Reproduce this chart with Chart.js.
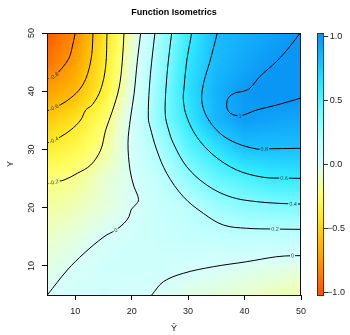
<!DOCTYPE html>
<html>
<head>
<meta charset="utf-8">
<script src="https://cdn.jsdelivr.net/npm/chart.js@4.4.0/dist/chart.umd.min.js"></script>
<style>
  html, body { margin: 0; padding: 0; background: #fff; }
</style>
</head>
<body>
<canvas id="chart" width="350" height="335"></canvas>
<script>
'use strict';

// axis ticks
const xTicks = [10, 20, 30, 40, 50];
const yTicks = [10, 20, 30, 40, 50];
const keyTicks = [-1, -0.5, 0, 0.5, 1];

const gridX = [5, 10, 15, 20, 25, 30, 35, 40, 45, 50];
const gridY = [5, 10, 15, 20, 25, 30, 35, 40, 45, 50];
const field = [
    [0.0, 0.03, 0.04, 0.02, -0.01, -0.04, -0.06, -0.09, -0.12, -0.15],
    [-0.05, -0.005, 0.03, 0.05, 0.05, 0.02, 0.0, -0.015, -0.03, -0.04],
    [-0.105, -0.057, 0.0, 0.04, 0.07, 0.11, 0.12, 0.15, 0.145, 0.143],
    [-0.16, -0.124, -0.067, -0.005, 0.085, 0.155, 0.275, 0.33, 0.36, 0.37],
    [-0.22, -0.19, -0.085, -0.01, 0.145, 0.32, 0.45, 0.52, 0.59, 0.6],
    [-0.37, -0.3, -0.18, 0.02, 0.23, 0.47, 0.63, 0.78, 0.79, 0.79],
    [-0.55, -0.43, -0.24, 0.02, 0.34, 0.6, 0.84, 0.96, 0.93, 0.91],
    [-0.72, -0.62, -0.37, -0.03, 0.33, 0.65, 0.86, 0.98, 1.04, 1.03],
    [-0.9, -0.72, -0.41, -0.07, 0.3, 0.62, 0.82, 0.91, 0.99, 1.04],
    [-0.98, -0.8, -0.44, -0.11, 0.26, 0.57, 0.8, 0.87, 0.93, 1.0]
];

// contour lines, [x, y] points
const lineM08 = [[10.0, 50], [9.43, 47.43], [8.9, 45.7], [7.66, 43.97], [6.24, 42.6], [5, 42.1]];
const lineM06 = [[13.15, 50], [12.92, 46.27], [12.14, 42.83], [10.97, 40.55], [9.2, 38.84], [7.43, 37.69], [6.24, 37.2], [5, 36.6]];
const lineM04 = [[15.63, 50], [15.4, 44.33], [14.51, 40.26], [13.03, 37.68], [11.86, 36.77], [10.97, 35.06], [9.2, 33.34], [7.43, 32.19], [6.24, 31.6], [5, 31.1]];
const lineM02 = [[18.64, 50], [18.34, 45.14], [17.76, 40.56], [16.57, 36.55], [15.4, 33.34], [14.51, 29.9], [12.74, 27.33], [10.37, 25.9], [8.01, 24.75], [6.24, 24.4], [5, 24.07]];
const line00 = [[21.6, 50], [21.0, 45.14], [20.41, 39.4], [19.79, 35.4], [19.35, 31.06], [19.71, 26.47], [20.41, 23.6], [21.03, 22.18], [21.18, 21.15], [20.41, 20.2], [19.88, 19.6], [19.53, 18.45], [18.64, 17.32], [17.17, 16.16], [15.1, 15.01], [11.56, 12.16], [8.6, 9.29], [5.05, 5]];
const line02 = [[24.13, 50], [23.55, 45.14], [23.13, 40.55], [22.95, 35.4], [23.25, 33.91], [24.44, 29.91], [26.21, 25.9], [29.15, 21.88], [32.69, 19.03], [36.24, 17.02], [40.38, 16.46], [45.4, 16.33], [50, 16.28]];
const line04 = [[27.09, 50], [26.49, 45.14], [26.08, 40.55], [25.95, 36.0], [26.5, 33.5], [27.38, 31.06], [29.75, 27.04], [33.3, 23.89], [37.42, 21.88], [42.15, 21.03], [48.6, 20.63], [50, 20.63]];
const line06 = [[30.64, 50], [29.75, 45.14], [29.27, 40.55], [29.15, 38.49], [29.75, 35.63], [31.52, 32.19], [34.46, 29.05], [38.61, 26.47], [43.32, 25.22], [47.0, 25.08], [50, 25.04]];
const line08 = [[35.17, 50], [33.88, 45.14], [32.82, 41.71], [32.41, 38.49], [33.3, 35.63], [35.65, 32.77], [38.61, 31.06], [42.15, 30.08], [43.5, 30.1], [50, 30.2]];
const line10 = [[49.83, 50], [48.05, 47.72], [45.7, 45.14], [42.74, 42.56], [40.97, 40.55], [39.78, 39.99], [38.31, 39.7], [37.12, 38.84], [36.84, 37.41], [37.42, 36.26], [39.2, 35.8], [42.15, 36.78], [45.7, 37.63], [50, 38.84]];
const line00b = [[23.55, 5], [25.61, 7.28], [29.15, 8.73], [34.46, 9.86], [40.38, 10.72], [45.7, 11.58], [48.5, 11.75], [50, 11.75]];

const contours = [lineM08, lineM06, lineM04, lineM02, line00, line02, line04, line06, line08, line10, line00b];
const levels = [-0.8, -0.6, -0.4, -0.2, 0, 0.2, 0.4, 0.6, 0.8, 1, 0];
const labelAt = [4, 6, 8, 9, 13, 11, 10, 9, 8, 10, 6];

// colour key
const keyStops = [-1, -0.8, -0.6, -0.4, -0.25, -0.1, 0, 0.2, 0.4, 0.6, 0.8, 1];
const keyColors = [
    [255, 85, 0], [255, 140, 0], [255, 190, 0], [255, 235, 40], [255, 255, 100], [235, 255, 200],
    [215, 255, 250], [180, 255, 255], [120, 250, 255], [50, 235, 255], [25, 190, 255], [10, 150, 245]
];

const FONT = '"Liberation Sans", Arial, sans-serif';

function colorAt(v) {
    if (v <= keyStops[0]) return keyColors[0];
    const n = keyStops.length - 1;
    if (v >= keyStops[n]) return keyColors[n];
    let i = 0;
    while (v > keyStops[i + 1]) i++;
    const t = (v - keyStops[i]) / (keyStops[i + 1] - keyStops[i]);
    const a = keyColors[i], b = keyColors[i + 1];
    return [a[0] + (b[0] - a[0]) * t, a[1] + (b[1] - a[1]) * t, a[2] + (b[2] - a[2]) * t];
}

function fieldAt(vx, vy) {
    const step = gridX[1] - gridX[0];
    let fi = (vx - gridX[0]) / step, fj = (vy - gridY[0]) / step;
    fi = Math.min(Math.max(fi, 0), gridX.length - 1.0001);
    fj = Math.min(Math.max(fj, 0), gridY.length - 1.0001);
    const i = Math.floor(fi), j = Math.floor(fj);
    const u = fi - i, w = fj - j;
    return field[j][i] * (1 - u) * (1 - w) + field[j][i + 1] * u * (1 - w) +
        field[j + 1][i] * (1 - u) * w + field[j + 1][i + 1] * u * w;
}

const rgb = c => `rgb(${Math.round(c[0])},${Math.round(c[1])},${Math.round(c[2])})`;

const shadePlugin = {
    id: 'shade',
    beforeDatasetsDraw(chart) {
        const { ctx, chartArea: a, scales: { x, y } } = chart;
        const w = Math.round(a.right - a.left), h = Math.round(a.bottom - a.top);
        const img = ctx.createImageData(w, h);
        for (let j = 0; j < h; j++) {
            const vy = y.getValueForPixel(a.top + j + 0.5);
            for (let i = 0; i < w; i++) {
                const c = colorAt(fieldAt(x.getValueForPixel(a.left + i + 0.5), vy));
                const k = (j * w + i) * 4;
                img.data[k] = c[0];
                img.data[k + 1] = c[1];
                img.data[k + 2] = c[2];
                img.data[k + 3] = 255;
            }
        }
        ctx.putImageData(img, Math.round(a.left), Math.round(a.top));
    }
};

const decorPlugin = {
    id: 'decor',
    afterDatasetsDraw(chart) {
        const { ctx, chartArea: a, scales: { x, y, cb } } = chart;

        // contour labels
        contours.forEach((pts, n) => {
            const k = labelAt[n];
            const p0 = pts[Math.max(k - 1, 0)], p1 = pts[Math.min(k + 1, pts.length - 1)];
            const px = x.getPixelForValue(pts[k][0]), py = y.getPixelForValue(pts[k][1]);
            let ang = Math.atan2(y.getPixelForValue(p1[1]) - y.getPixelForValue(p0[1]),
                x.getPixelForValue(p1[0]) - x.getPixelForValue(p0[0]));
            if (ang > Math.PI / 2) ang -= Math.PI;
            if (ang < -Math.PI / 2) ang += Math.PI;
            const txt = String(levels[n]);
            ctx.save();
            ctx.translate(px, py);
            ctx.rotate(ang);
            ctx.font = '5.5px ' + FONT;
            const tw = ctx.measureText(txt).width;
            ctx.fillStyle = rgb(colorAt(fieldAt(pts[k][0], pts[k][1])));
            ctx.fillRect(-tw / 2 - 1, -2.5, tw + 2, 5);
            ctx.fillStyle = '#3a3a3a';
            ctx.textAlign = 'center';
            ctx.textBaseline = 'middle';
            ctx.fillText(txt, 0, 0.3);
            ctx.restore();
        });

        // frame
        ctx.save();
        ctx.strokeStyle = '#111';
        ctx.lineWidth = 1;
        ctx.strokeRect(Math.round(a.left) + 0.5, Math.round(a.top) + 0.5,
            Math.round(a.right - a.left) - 1, Math.round(a.bottom - a.top));
        ctx.restore();

        // colour key
        const kx = Math.round(a.right) + 16, kw = 6;
        const top = Math.round(cb.top), bot = Math.round(cb.bottom);
        ctx.save();
        for (let py = top; py < bot; py++) {
            ctx.fillStyle = rgb(colorAt(cb.getValueForPixel(py + 0.5)));
            ctx.fillRect(kx, py, kw, 1);
        }
        ctx.strokeStyle = '#333';
        ctx.lineWidth = 1;
        ctx.strokeRect(kx + 0.5, top + 0.5, kw, bot - top);
        ctx.font = '9px ' + FONT;
        ctx.fillStyle = '#222';
        ctx.textAlign = 'center';
        ctx.textBaseline = 'middle';
        keyTicks.forEach(v => {
            const py = Math.round(cb.getPixelForValue(v)) + 0.5;
            ctx.beginPath();
            ctx.moveTo(kx + kw + 0.5, py);
            ctx.lineTo(kx + kw + 5, py);
            ctx.stroke();
            const lab = (v < 0 ? '\u2212' : '') + Math.abs(v).toFixed(1);
            ctx.fillText(lab, kx + kw + 13, py);
        });

        // title
        ctx.font = 'bold 9px ' + FONT;
        ctx.fillStyle = '#000';
        ctx.fillText('Function Isometrics', (a.left + a.right) / 2, 13);
        ctx.restore();
    }
};

const datasets = contours.map(pts => ({
    data: pts.map(p => ({ x: p[0], y: p[1] })),
    showLine: true,
    pointRadius: 0,
    borderColor: '#000',
    borderWidth: 1,
    tension: 0.35,
    fill: false
}));

new Chart(document.getElementById('chart'), {
    type: 'scatter',
    data: { datasets: datasets },
    options: {
        responsive: false,
        devicePixelRatio: 1,
        animation: false,
        events: [],
        layout: { padding: { left: 0, right: 49, top: 33, bottom: 0 } },
        plugins: { legend: { display: false }, tooltip: { enabled: false }, title: { display: false } },
        scales: {
            x: {
                type: 'linear', position: 'bottom', min: 5, max: 50,
                afterBuildTicks: s => { s.ticks = xTicks.map(v => ({ value: v })); },
                afterFit: s => { s.height = 40; },
                grid: { drawOnChartArea: false, tickLength: 5, color: '#000' },
                border: { display: true, color: '#111' },
                ticks: { font: { family: FONT, size: 9 }, color: '#222', padding: 6, maxRotation: 0 },
                title: { display: true, text: '\u0176', font: { family: FONT, size: 9 }, color: '#222', padding: { top: 0, bottom: 1 } }
            },
            y: {
                type: 'linear', position: 'left', min: 5, max: 50,
                afterBuildTicks: s => { s.ticks = yTicks.map(v => ({ value: v })); },
                afterFit: s => { s.width = 47; },
                grid: { drawOnChartArea: false, tickLength: 5, color: '#000' },
                border: { display: true, color: '#111' },
                ticks: { font: { family: FONT, size: 9 }, color: '#222', padding: 5, minRotation: 90, maxRotation: 90, crossAlign: 'center' },
                title: { display: true, text: 'Y', font: { family: FONT, size: 9 }, color: '#222', padding: { top: 5, bottom: 0 } }
            },
            cb: { type: 'linear', position: 'right', display: false, min: -1.025, max: 1.025 }
        }
    },
    plugins: [shadePlugin, decorPlugin]
});
</script>
</body>
</html>
